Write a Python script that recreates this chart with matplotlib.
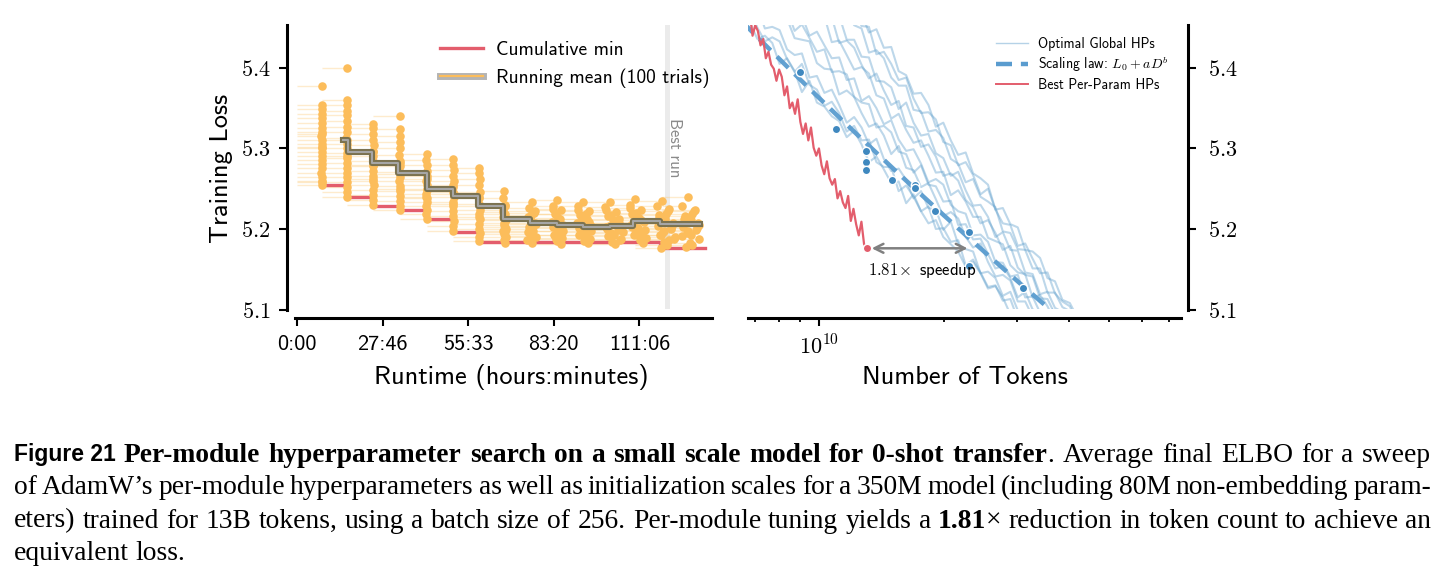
import numpy as np
import matplotlib
matplotlib.use("Agg")
import matplotlib.pyplot as plt
from matplotlib.lines import Line2D
from matplotlib.collections import LineCollection
from matplotlib.ticker import FixedLocator, FuncFormatter, NullFormatter

W, H = 1446, 581
plt.rcParams['mathtext.fontset'] = 'cm'
plt.rcParams['font.family'] = 'cmss10'
plt.rcParams['axes.unicode_minus'] = False

# ---------------- data: left panel (times in thousands of seconds) ----------------
batch_start_k = [0, 28.9, 58.1, 89.1, 120.3, 151.5, 182.6, 213.0, 242.2, 274.2, 304.1, 334.5, 365.7, 394.9, 426.1]
trial_loss = [
    [5.377, 5.354, 5.349, 5.343, 5.338, 5.332, 5.326, 5.320, 5.315, 5.310, 5.305, 5.300, 5.296, 5.291, 5.286, 5.281, 5.276, 5.270, 5.265, 5.260, 5.255, 5.258, 5.302, 5.318],
    [5.400, 5.360, 5.354, 5.347, 5.341, 5.334, 5.327, 5.320, 5.313, 5.306, 5.300, 5.294, 5.288, 5.282, 5.276, 5.270, 5.264, 5.258, 5.252, 5.246, 5.240, 5.290, 5.310],
    [5.330, 5.325, 5.318, 5.311, 5.304, 5.297, 5.290, 5.284, 5.278, 5.272, 5.266, 5.260, 5.254, 5.248, 5.242, 5.236, 5.230, 5.262, 5.280, 5.295],
    [5.340, 5.324, 5.316, 5.308, 5.300, 5.292, 5.285, 5.278, 5.271, 5.265, 5.259, 5.253, 5.247, 5.241, 5.235, 5.229, 5.223, 5.268, 5.250, 5.282],
    [5.293, 5.286, 5.279, 5.272, 5.266, 5.260, 5.254, 5.248, 5.243, 5.238, 5.233, 5.228, 5.223, 5.218, 5.213, 5.250, 5.240, 5.262],
    [5.287, 5.280, 5.273, 5.266, 5.259, 5.252, 5.246, 5.240, 5.234, 5.228, 5.222, 5.216, 5.210, 5.204, 5.198, 5.243, 5.231, 5.255],
    [5.276, 5.270, 5.262, 5.254, 5.246, 5.238, 5.231, 5.224, 5.218, 5.212, 5.206, 5.200, 5.195, 5.190, 5.185, 5.228, 5.215, 5.240],
    [5.247, 5.238, 5.230, 5.224, 5.218, 5.213, 5.208, 5.203, 5.198, 5.194, 5.190, 5.186, 5.183, 5.221, 5.211, 5.205, 5.196, 5.228, 5.215, 5.200],
    [5.233, 5.226, 5.220, 5.215, 5.210, 5.206, 5.202, 5.198, 5.194, 5.190, 5.186, 5.183, 5.222, 5.212, 5.204, 5.196, 5.217, 5.208, 5.200, 5.191],
    [5.236, 5.229, 5.223, 5.218, 5.213, 5.209, 5.205, 5.201, 5.197, 5.193, 5.189, 5.185, 5.181, 5.225, 5.214, 5.206, 5.198, 5.219, 5.210, 5.202, 5.192, 5.187],
    [5.234, 5.228, 5.222, 5.217, 5.212, 5.208, 5.204, 5.200, 5.196, 5.192, 5.188, 5.185, 5.182, 5.224, 5.213, 5.205, 5.197, 5.218, 5.209, 5.201, 5.193, 5.189],
    [5.233, 5.227, 5.221, 5.216, 5.211, 5.207, 5.203, 5.199, 5.195, 5.191, 5.187, 5.184, 5.181, 5.223, 5.212, 5.204, 5.196, 5.217, 5.208, 5.200, 5.192, 5.186],
    [5.237, 5.230, 5.224, 5.219, 5.214, 5.209, 5.205, 5.201, 5.197, 5.193, 5.189, 5.186, 5.183, 5.226, 5.215, 5.207, 5.199, 5.220, 5.211, 5.202, 5.194, 5.190],
    [5.235, 5.228, 5.222, 5.217, 5.212, 5.208, 5.204, 5.200, 5.196, 5.192, 5.188, 5.184, 5.180, 5.176, 5.225, 5.214, 5.206, 5.198, 5.219, 5.210, 5.201, 5.193, 5.186, 5.190],
    [5.240, 5.229, 5.222, 5.216, 5.211, 5.207, 5.203, 5.199, 5.195, 5.191, 5.187, 5.183, 5.180, 5.177, 5.224, 5.213, 5.205, 5.197, 5.218, 5.209, 5.201, 5.193],
]
trial_end_k = [
    [28.9, 28.7, 29.1, 28.8, 29.0, 28.7, 29.1, 28.9, 28.6, 29.0, 28.8, 29.1, 28.7, 28.9, 29.2, 28.8, 29.0, 28.6, 28.9, 29.1, 28.7, 29.0, 28.9, 28.8],
    [58.1, 58.0, 58.3, 57.9, 58.2, 58.0, 58.3, 58.1, 57.8, 58.2, 58.0, 58.3, 58.1, 57.9, 58.2, 58.0, 58.4, 58.1, 57.9, 58.2, 58.0, 58.1, 58.3],
    [89.3, 89.0, 89.2, 88.9, 89.4, 89.1, 88.8, 89.2, 89.0, 89.3, 88.9, 89.1, 89.4, 89.0, 89.2, 88.8, 89.1, 89.3, 89.0, 89.2],
    [120.3, 119.8, 120.6, 120.1, 120.8, 119.7, 120.4, 120.0, 120.9, 120.2, 119.6, 120.5, 120.1, 120.7, 119.9, 120.3, 120.6, 119.8, 120.4, 120.2],
    [151.5, 151.0, 152.0, 151.3, 151.8, 150.9, 151.6, 152.2, 151.1, 151.7, 151.4, 150.8, 151.9, 151.2, 151.5, 152.1, 150.9, 151.6],
    [182.6, 182.0, 183.1, 182.4, 182.9, 181.9, 182.7, 183.3, 182.2, 182.8, 182.5, 181.8, 183.0, 182.3, 182.6, 183.2, 182.0, 182.7],
    [213.0, 212.3, 213.5, 212.7, 213.3, 212.2, 213.1, 213.7, 212.5, 213.2, 212.9, 212.1, 213.4, 212.6, 213.0, 213.6, 212.4, 213.1],
    [242.2, 241.0, 243.3, 240.5, 242.8, 244.0, 241.6, 243.5, 240.8, 242.4, 244.2, 241.3, 242.9, 240.6, 243.8, 241.9, 243.1, 242.5, 240.4, 244.1],
    [274.2, 271.0, 276.8, 269.5, 273.1, 278.9, 270.6, 275.4, 272.3, 279.6, 268.8, 274.8, 277.5, 271.7, 276.1, 269.9, 273.7, 278.2, 272.9, 275.0],
    [304.1, 299.0, 308.5, 301.2, 306.7, 298.2, 310.3, 302.8, 305.4, 300.1, 309.2, 303.6, 307.9, 298.9, 305.0, 301.7, 310.8, 303.0, 306.2, 299.6, 308.0, 302.4],
    [334.5, 328.0, 341.2, 330.5, 338.4, 327.2, 343.6, 332.8, 336.9, 329.3, 342.5, 335.6, 339.8, 327.9, 333.4, 331.0, 344.0, 337.5, 340.6, 329.8, 335.0, 338.9],
    [365.7, 360.2, 372.5, 362.8, 369.0, 376.4, 361.1, 374.9, 366.3, 363.5, 378.2, 368.1, 371.0, 360.6, 375.6, 364.4, 380.3, 367.2, 373.6, 362.0, 369.8, 377.1],
    [394.9, 389.5, 402.3, 391.8, 399.7, 405.6, 390.4, 398.0, 396.1, 393.2, 407.8, 400.9, 403.7, 389.1, 397.3, 392.5, 406.4, 395.6, 401.8, 390.9, 399.0, 404.5],
    [426.1, 420.8, 433.5, 423.0, 430.2, 438.9, 421.7, 436.4, 427.5, 424.6, 440.8, 429.1, 432.3, 425.5, 435.0, 422.4, 439.6, 428.3, 431.6, 421.2, 437.2, 425.4, 434.1, 441.2],
    [457.1, 450.2, 463.5, 452.8, 460.4, 468.9, 451.1, 466.2, 455.7, 449.8, 470.1, 458.9, 462.0, 454.3, 465.0, 451.9, 469.5, 456.6, 461.2, 453.0, 467.4, 459.8],
]
cummin_t_k = [28.9, 58.1, 89.1, 120.3, 151.5, 182.6, 213.0, 424.0, 476.6]
cummin_val = [5.255, 5.240, 5.229, 5.224, 5.213, 5.196, 5.184, 5.176, 5.176]
runmean_t_k = [54.1, 60.0, 87.2, 118.4, 151.5, 182.6, 211.8, 241.0, 272.2, 303.3, 334.5, 365.6, 392.9, 424.1, 470.8]
runmean_val = [5.311, 5.296, 5.282, 5.269, 5.250, 5.241, 5.228, 5.212, 5.207, 5.205, 5.203, 5.204, 5.210, 5.206, 5.206]
best_run_k = 432.2
runtime_ticks_s = [0, 100000, 200000, 300000, 400000]
loss_ticks = [5.1, 5.2, 5.3, 5.4]

# ---------------- data: right panel (tokens in billions) ----------------
tokens_global_b = [6.80, 7.09, 7.39, 7.70, 8.02, 8.36, 8.72, 9.08, 9.47, 9.87, 10.29, 10.72, 11.17, 11.65, 12.14,
                   12.65, 13.18, 13.74, 14.32, 14.92, 15.55, 16.21, 16.89, 17.61, 18.35, 19.12, 19.93, 20.78, 21.65,
                   22.57, 23.52, 24.51, 25.55, 26.63, 27.75, 28.93, 30.15, 31.42, 32.75, 34.13, 35.57, 37.08, 38.64,
                   40.28, 41.98]
global_run_1 = [5.456, 5.436, 5.440, 5.431, 5.405, 5.412, 5.396, 5.370, 5.384, 5.357, 5.352, 5.340, 5.334, 5.314, 5.322, 5.305, 5.283, 5.290, 5.274, 5.257, 5.259, 5.232, 5.243, 5.222, 5.207, 5.211, 5.190, 5.181, 5.172, 5.153, 5.159, 5.145, 5.126, 5.129, 5.115, 5.094, 5.095, 5.072, 5.070, 5.058, 5.048, 5.038, 5.028, 5.018, 5.008]
global_run_2 = [5.473, 5.450, 5.433, 5.438, 5.433, 5.411, 5.395, 5.405, 5.379, 5.373, 5.353, 5.358, 5.344, 5.321, 5.328, 5.310, 5.311, 5.283, 5.277, 5.277, 5.247, 5.254, 5.240, 5.222, 5.228, 5.200, 5.201, 5.184, 5.186, 5.155, 5.162, 5.146, 5.128, 5.130, 5.111, 5.113, 5.088, 5.087, 5.072, 5.067, 5.048, 5.046, 5.029, 5.024, 5.011]
global_run_3 = [5.477, 5.477, 5.449, 5.451, 5.447, 5.423, 5.416, 5.418, 5.388, 5.390, 5.369, 5.373, 5.354, 5.332, 5.339, 5.326, 5.305, 5.312, 5.287, 5.272, 5.275, 5.261, 5.238, 5.247, 5.226, 5.224, 5.199, 5.209, 5.181, 5.175, 5.172, 5.145, 5.147, 5.139, 5.117, 5.122, 5.099, 5.084, 5.085, 5.071, 5.055, 5.056, 5.037, 5.032, 5.014]
global_run_4 = [5.516, 5.495, 5.497, 5.466, 5.468, 5.461, 5.437, 5.435, 5.433, 5.406, 5.399, 5.398, 5.367, 5.372, 5.364, 5.344, 5.327, 5.331, 5.316, 5.293, 5.303, 5.276, 5.273, 5.252, 5.257, 5.237, 5.216, 5.221, 5.213, 5.190, 5.177, 5.182, 5.159, 5.141, 5.143, 5.136, 5.110, 5.110, 5.091, 5.091, 5.071, 5.065, 5.046, 5.045, 5.028]
global_run_5 = [5.519, 5.524, 5.500, 5.483, 5.486, 5.472, 5.446, 5.454, 5.437, 5.420, 5.423, 5.395, 5.396, 5.392, 5.364, 5.357, 5.355, 5.326, 5.328, 5.320, 5.296, 5.293, 5.270, 5.279, 5.255, 5.253, 5.234, 5.235, 5.205, 5.206, 5.187, 5.188, 5.169, 5.151, 5.154, 5.139, 5.115, 5.122, 5.100, 5.097, 5.075, 5.072, 5.063, 5.043, 5.038]
global_run_6 = [5.535, 5.532, 5.525, 5.497, 5.493, 5.495, 5.466, 5.465, 5.440, 5.445, 5.428, 5.412, 5.413, 5.385, 5.387, 5.359, 5.365, 5.350, 5.330, 5.335, 5.311, 5.297, 5.299, 5.281, 5.258, 5.262, 5.255, 5.230, 5.222, 5.219, 5.192, 5.193, 5.184, 5.159, 5.158, 5.141, 5.143, 5.115, 5.116, 5.096, 5.096, 5.071, 5.068, 5.052, 5.044]
global_run_7 = [5.572, 5.551, 5.552, 5.544, 5.513, 5.515, 5.496, 5.496, 5.470, 5.466, 5.464, 5.432, 5.434, 5.416, 5.398, 5.401, 5.393, 5.366, 5.362, 5.337, 5.343, 5.323, 5.307, 5.310, 5.291, 5.270, 5.271, 5.242, 5.248, 5.234, 5.215, 5.215, 5.189, 5.185, 5.181, 5.155, 5.146, 5.144, 5.115, 5.118, 5.104, 5.085, 5.085, 5.064, 5.057]
global_run_8 = [5.588, 5.564, 5.567, 5.550, 5.530, 5.537, 5.510, 5.492, 5.498, 5.480, 5.460, 5.463, 5.431, 5.434, 5.425, 5.404, 5.387, 5.393, 5.372, 5.354, 5.359, 5.328, 5.326, 5.302, 5.305, 5.290, 5.266, 5.269, 5.260, 5.236, 5.227, 5.207, 5.211, 5.195, 5.174, 5.179, 5.152, 5.143, 5.141, 5.114, 5.113, 5.094, 5.090, 5.071, 5.063]
global_run_9 = [5.596, 5.596, 5.574, 5.555, 5.558, 5.543, 5.516, 5.520, 5.512, 5.484, 5.481, 5.464, 5.465, 5.435, 5.435, 5.414, 5.413, 5.384, 5.383, 5.376, 5.349, 5.357, 5.332, 5.316, 5.318, 5.294, 5.288, 5.266, 5.271, 5.248, 5.229, 5.230, 5.215, 5.190, 5.196, 5.174, 5.173, 5.146, 5.144, 5.119, 5.122, 5.102, 5.097, 5.076, 5.071]
global_run_10 = [5.635, 5.615, 5.596, 5.600, 5.582, 5.558, 5.563, 5.542, 5.524, 5.529, 5.501, 5.496, 5.472, 5.477, 5.453, 5.449, 5.419, 5.422, 5.412, 5.388, 5.378, 5.378, 5.348, 5.346, 5.321, 5.323, 5.313, 5.287, 5.281, 5.258, 5.262, 5.240, 5.234, 5.227, 5.197, 5.195, 5.175, 5.174, 5.151, 5.151, 5.121, 5.121, 5.103, 5.098, 5.077]
global_run_11 = [5.638, 5.636, 5.630, 5.601, 5.593, 5.590, 5.558, 5.559, 5.549, 5.522, 5.520, 5.516, 5.488, 5.472, 5.474, 5.452, 5.451, 5.417, 5.420, 5.405, 5.385, 5.388, 5.362, 5.344, 5.345, 5.336, 5.308, 5.304, 5.279, 5.283, 5.267, 5.243, 5.250, 5.224, 5.207, 5.205, 5.179, 5.182, 5.163, 5.145, 5.146, 5.120, 5.110, 5.104, 5.083]
global_run_12 = [5.658, 5.653, 5.626, 5.624, 5.618, 5.589, 5.582, 5.579, 5.546, 5.548, 5.533, 5.512, 5.513, 5.483, 5.484, 5.468, 5.444, 5.448, 5.425, 5.426, 5.396, 5.391, 5.368, 5.369, 5.354, 5.327, 5.332, 5.310, 5.292, 5.295, 5.269, 5.263, 5.255, 5.224, 5.226, 5.206, 5.202, 5.174, 5.172, 5.164, 5.139, 5.135, 5.112, 5.108, 5.090]
global_runs = [global_run_1, global_run_2, global_run_3, global_run_4, global_run_5, global_run_6,
               global_run_7, global_run_8, global_run_9, global_run_10, global_run_11, global_run_12]
tokens_best_b = [6.800, 6.901, 7.004, 7.108, 7.214, 7.321, 7.430, 7.540, 7.652, 7.766, 7.882, 7.999, 8.118, 8.239,
                 8.361, 8.486, 8.612, 8.740, 8.870, 9.002, 9.136, 9.272, 9.410, 9.550, 9.692, 9.836, 9.982, 10.130,
                 10.281, 10.434, 10.589, 10.747, 10.907, 11.069, 11.234, 11.401, 11.570, 11.742, 11.917, 12.094,
                 12.274, 12.457, 12.642, 12.830, 13.021]
best_loss = [5.468, 5.440, 5.453, 5.446, 5.428, 5.436, 5.412, 5.420, 5.404, 5.399, 5.384, 5.398, 5.389, 5.366, 5.377,
             5.350, 5.357, 5.343, 5.361, 5.333, 5.318, 5.331, 5.310, 5.326, 5.301, 5.291, 5.300, 5.279, 5.268, 5.284,
             5.263, 5.255, 5.262, 5.238, 5.247, 5.233, 5.226, 5.241, 5.210, 5.225, 5.206, 5.192, 5.209, 5.181, 5.176]
fit_tokens_b = [9.0, 11.0, 13.0, 13.0, 13.0, 15.0, 17.0, 17.0, 19.0, 23.0, 23.0, 31.0]
fit_loss = [5.395, 5.324, 5.297, 5.283, 5.273, 5.261, 5.255, 5.251, 5.222, 5.196, 5.154, 5.127]
law_L0, law_a, law_b = 3.0, 19.56, -0.0918
speedup = 1.81
token_major = [1e10]
token_minor = [7e9, 8e9, 9e9, 2e10, 3e10, 4e10, 5e10, 6e10, 7e10]

# ---------------- style ----------------
ORANGE = '#fcbd5b'
RED = '#e35d6c'
BLUE = '#5b9dcb'
BLUE_DOT = '#3f88bf'
DASH = '#5a9ccf'
GRAY = '#808080'

fig = plt.figure(figsize=(W / 100, H / 100), dpi=100)


def px_axes(l, r, t, b):
    return fig.add_axes([l / W, 1 - b / H, (r - l) / W, (b - t) / H])


ax1 = px_axes(295, 712, 25, 309.5)
ax2 = px_axes(748.3, 1180.7, 25, 309.5)
YLIM = (5.1, 5.4533)

# ---- left panel ----
segs, dots_t, dots_l = [], [], []
for b, (ts, ls) in enumerate(zip(trial_end_k, trial_loss)):
    for t, l in zip(ts, ls):
        segs.append([(batch_start_k[b] * 1e3, l), (t * 1e3, l)])
        dots_t.append(t * 1e3)
        dots_l.append(l)
ax1.axvline(best_run_k * 1e3, color='#ebebeb', lw=3.6, zorder=0)
ax1.add_collection(LineCollection(segs, colors=ORANGE, linewidths=1.0, alpha=0.3, zorder=1))
ax1.step(np.array(cummin_t_k) * 1e3, cummin_val, where='post', color=RED, lw=2.4, zorder=2)
ax1.scatter(dots_t, dots_l, s=38, color=ORANGE, linewidths=0, zorder=3)
ax1.step(np.array(runmean_t_k) * 1e3, runmean_val, where='post', color='#7b7250', lw=4.4, zorder=4)
ax1.step(np.array(runmean_t_k) * 1e3, runmean_val, where='post', color='#a6a6a6', lw=1.5, zorder=5)
ax1.text(best_run_k * 1e3 + 9000, 5.3006, 'Best run', rotation=270, ha='center', va='center',
         fontsize=12, color='#8a8a8a', zorder=6)
ax1.set_xlim(-2336, 484800)
ax1.set_ylim(*YLIM)


def hm(t, pos):
    return f"{int(t // 3600)}:{int((t % 3600) // 60):02d}"


ax1.xaxis.set_major_locator(FixedLocator(runtime_ticks_s))
ax1.xaxis.set_major_formatter(FuncFormatter(hm))
ax1.yaxis.set_major_locator(FixedLocator(loss_ticks))
ax1.yaxis.set_major_formatter(FuncFormatter(lambda v, p: f"${v:.1f}$"))

h_mean = (Line2D([], [], color='#b4b4b4', lw=5), Line2D([], [], color=ORANGE, lw=1.6))
ax1.legend([Line2D([], [], color=RED, lw=2.4), h_mean], ['Cumulative min', 'Running mean (100 trials)'],
           loc='upper left', bbox_to_anchor=(440 / W, 1 - 41 / H), bbox_transform=fig.transFigure,
           frameon=False, fontsize=14, handlelength=2.2, handletextpad=0.7, labelspacing=0.5,
           borderpad=0, borderaxespad=0)

# ---- right panel ----
tg = np.array(tokens_global_b) * 1e9
for run in global_runs:
    ax2.plot(tg, run, color=BLUE, lw=1.5, alpha=0.4, zorder=1)
D = np.geomspace(6.5e9, 8e10, 200)
ax2.plot(D, law_L0 + law_a * D ** law_b, color=DASH, lw=3.2, dashes=(3.6, 2.0), alpha=0.95, zorder=2)
ax2.scatter(np.array(fit_tokens_b) * 1e9, fit_loss, s=36, color=BLUE_DOT, edgecolors='white', linewidths=1.0, zorder=4)
tb = np.array(tokens_best_b) * 1e9
ax2.plot(tb, best_loss, color=RED, lw=1.6, zorder=3)
ax2.scatter([tb[-1]], [best_loss[-1]], s=36, color=RED, edgecolors='white', linewidths=1.0, zorder=5)
ax2.annotate('', xy=(tb[-1] * speedup, best_loss[-1]), xytext=(tb[-1], best_loss[-1]),
             arrowprops=dict(arrowstyle='<->', color=GRAY, lw=1.8, shrinkA=3.6, shrinkB=4.3, mutation_scale=16),
             zorder=6)
ax2.text(tb[-1] * 1.006, 5.149, rf'${speedup:.2f}\!\times$ speedup', ha='left', va='center', fontsize=12, zorder=6)
ax2.set_xscale('log')
ax2.set_xlim(6.74e9, 7.46e10)
ax2.set_ylim(*YLIM)
ax2.xaxis.set_major_locator(FixedLocator(token_major))
ax2.xaxis.set_major_formatter(FuncFormatter(lambda v, p: r'$10^{10}$'))
ax2.xaxis.set_minor_locator(FixedLocator(token_minor))
ax2.xaxis.set_minor_formatter(NullFormatter())
ax2.yaxis.tick_right()
ax2.yaxis.set_major_locator(FixedLocator(loss_ticks))
ax2.yaxis.set_major_formatter(FuncFormatter(lambda v, p: f"${v:.1f}$"))

ax2.legend([Line2D([], [], color=BLUE, lw=1.0, alpha=0.45),
            Line2D([], [], color=DASH, lw=3.2, dashes=(3.6, 2.0)),
            Line2D([], [], color=RED, lw=1.4)],
           ['Optimal Global HPs', r'Scaling law: $L_0 + aD^b$', 'Best Per-Param HPs'],
           loc='upper left', bbox_to_anchor=(996 / W, 1 - 37 / H), bbox_transform=fig.transFigure,
           frameon=False, fontsize=10, handlelength=2.3, handletextpad=0.75, labelspacing=0.3,
           borderpad=0, borderaxespad=0)

# ---- spines / ticks ----
for ax in (ax1, ax2):
    ax.spines['top'].set_visible(False)
    for s in ax.spines.values():
        s.set_linewidth(2.2)
    ax.spines['bottom'].set_position(('outward', 6.1))
    ax.tick_params(axis='both', which='major', labelsize=16, length=6, width=1.5, pad=6)
    ax.tick_params(axis='x', which='minor', length=3, width=1.3)
ax1.spines['right'].set_visible(False)
ax1.spines['left'].set_position(('outward', 5.8))
ax2.spines['left'].set_visible(False)
ax2.spines['right'].set_position(('outward', 5.3))
ax2.tick_params(axis='y', which='major', pad=8)

fig.text(221.5 / W, 1 - 168 / H, 'Training Loss', rotation=90, ha='center', va='center', fontsize=19)
fig.text(511 / W, 1 - 377 / H, 'Runtime (hours:minutes)', ha='center', va='center', fontsize=19)
fig.text(965 / W, 1 - 377 / H, 'Number of Tokens', ha='center', va='center', fontsize=19)

# ---------------- caption ----------------
SER = dict(family='Liberation Serif', size=19.8)
SERB = dict(family='Liberation Serif', size=19.8, weight='bold')
SANB = dict(family='Liberation Sans', size=16.5, weight='bold')


def words(s, st):
    return [[(w, st)] for w in s.split()]


caption_lines = [
    [[('Figure 21', SANB)]] + words('Per-module hyperparameter search on a small scale model for 0-shot', SERB)
    + [[('transfer', SERB), ('.', SER)]] + words('Average final ELBO for a sweep', SER),
    words('of AdamW\u2019s per-module hyperparameters as well as initialization scales for a 350M model '
          '(including 80M non-embedding param-', SER),
    words('eters) trained for 13B tokens, using a batch size of 256. Per-module tuning yields a', SER)
    + [[('1.81', SERB), ('\u00d7', SER)]] + words('reduction in token count to achieve an', SER),
    words('equivalent loss.', SER),
]
baselines = [461.5, 494.5, 527.5, 560.5]
X0, X1 = 14, 1431
renderer = fig.canvas.get_renderer()
for li, (line, yb) in enumerate(zip(caption_lines, baselines)):
    placed, total = [], 0.0
    for w in line:
        parts = []
        for txt, st in w:
            t = fig.text(0, 1 - yb / H, txt, ha='left', va='baseline', **st)
            wd = t.get_window_extent(renderer=renderer).width
            parts.append((t, wd))
            total += wd
        placed.append(parts)
    last = li == len(caption_lines) - 1
    gap = 6.0 if last else (X1 - X0 - total) / (len(placed) - 1)
    x = X0
    for parts in placed:
        for t, wd in parts:
            t.set_x(x / W)
            x += wd
        x += gap

fig.savefig('out.png', dpi=100)
